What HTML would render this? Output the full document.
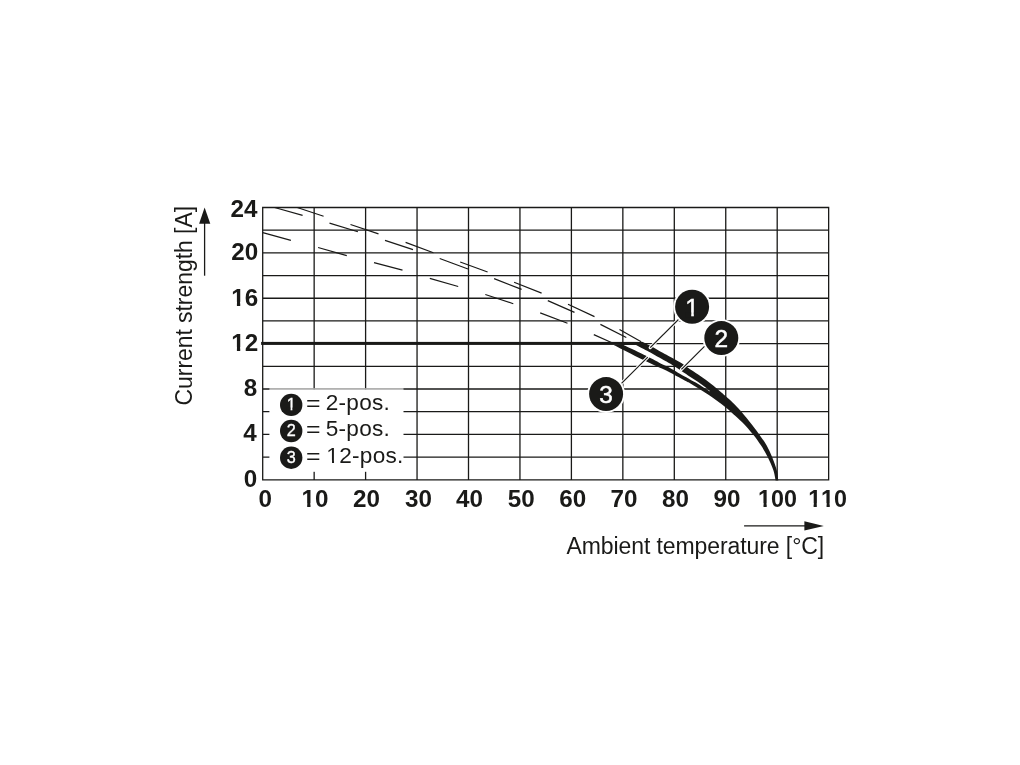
<!DOCTYPE html>
<html lang="en"><head><meta charset="utf-8"><title>Derating diagram</title>
<style>html,body{margin:0;padding:0;background:#fff}body{width:1020px;height:765px;overflow:hidden}svg{display:block}</style></head>
<body>
<svg width="1020" height="765" viewBox="0 0 1020 765" style="font-kerning:none" font-family="'Liberation Sans', Arial, Helvetica, sans-serif">
<rect width="1020" height="765" fill="#fff"/>
<path d="M262.70 207.50V479.78M314.15 207.50V479.78M365.60 207.50V479.78M417.05 207.50V479.78M468.50 207.50V479.78M519.95 207.50V479.78M571.40 207.50V479.78M622.85 207.50V479.78M674.30 207.50V479.78M725.75 207.50V479.78M777.20 207.50V479.78M828.65 207.50V479.78M262.05 207.50H829.30M262.05 230.19H829.30M262.05 252.88H829.30M262.05 275.57H829.30M262.05 298.26H829.30M262.05 320.95H829.30M262.05 343.64H829.30M262.05 366.33H829.30M262.05 389.02H829.30M262.05 411.71H829.30M262.05 434.40H829.30M262.05 457.09H829.30M262.05 479.78H829.30" stroke="#1a1a18" stroke-width="1.30" fill="none"/>
<path d="M297.2 207.5L323.6 216.3M350.5 224.5L378.5 233.9M405.6 242.4L433.4 252.7M460.2 262.0L487.6 272.0M514.1 282.2L541.6 293.1M568.0 304.3L594.5 316.6M619.5 329.5L641.2 341.8M274.6 207.5L302.6 215.3M329.5 223.1L357.9 231.8M385.0 240.4L413.0 249.6M439.7 258.5L468.0 269.0M494.1 278.6L521.6 289.4M547.8 300.6L574.5 312.4M600.4 324.4L626.3 337.5M262.8 232.7L290.9 240.4M318.1 247.5L346.8 255.7M374.0 262.7L402.5 270.2M429.8 278.4L458.2 286.5M485.3 294.5L513.3 303.7M540.2 312.9L567.5 323.3M593.8 334.6L611.4 342.5" stroke="#1a1a18" stroke-width="1.2" fill="none"/>
<rect x="261.10" y="341.9" width="381.60" height="3.0" fill="#1a1a18"/>
<path d="M642.70 341.90 C643.95 342.53 646.87 343.90 650.20 345.70 C653.53 347.50 659.40 350.87 662.70 352.70 C666.00 354.53 667.12 355.12 670.00 356.70 C672.88 358.28 677.38 360.63 680.00 362.20 C682.62 363.77 684.03 364.92 685.70 366.10 C687.37 367.28 687.98 367.93 690.00 369.30 C692.02 370.67 695.18 372.55 697.80 374.30 C700.42 376.05 703.08 377.90 705.70 379.80 C708.32 381.70 710.88 383.60 713.50 385.70 C716.12 387.80 719.35 390.63 721.40 392.40 C723.45 394.17 723.85 394.55 725.80 396.30 C727.75 398.05 730.57 400.42 733.10 402.90 C735.63 405.38 737.82 407.52 741.00 411.20 C744.18 414.88 749.13 421.08 752.20 425.00 C755.27 428.92 756.98 431.27 759.40 434.70 C761.82 438.13 764.57 441.83 766.70 445.60 C768.83 449.37 770.53 453.23 772.20 457.30 C773.87 461.37 775.68 466.15 776.70 470.00 C777.72 473.85 778.03 478.67 778.30 480.40 L775.60 480.40 C775.22 478.67 774.60 473.85 773.30 470.00 C772.00 466.15 769.83 461.37 767.80 457.30 C765.77 453.23 763.52 449.37 761.10 445.60 C758.68 441.83 756.45 438.60 753.30 434.70 C750.15 430.80 745.57 425.67 742.20 422.20 C738.83 418.73 735.83 416.33 733.10 413.90 C730.37 411.47 727.75 409.23 725.80 407.60 C723.85 405.97 723.45 405.67 721.40 404.10 C719.35 402.53 716.12 400.07 713.50 398.20 C710.88 396.33 708.32 394.62 705.70 392.90 C703.08 391.18 700.42 389.52 697.80 387.90 C695.18 386.28 692.02 384.35 690.00 383.20 C687.98 382.05 689.03 382.80 685.70 381.00 C682.37 379.20 675.13 374.97 670.00 372.40 C664.87 369.83 660.03 368.00 654.90 365.60 C649.77 363.20 644.43 360.60 639.20 358.00 C633.97 355.40 627.75 352.18 623.50 350.00 C619.25 347.82 615.33 345.75 613.70 344.90 Z M636.10 344.90 C637.93 345.88 642.67 348.37 647.10 350.80 C651.53 353.23 658.88 357.37 662.70 359.50 C666.52 361.63 666.82 361.63 670.00 363.60 C673.18 365.57 678.47 369.12 681.80 371.30 C685.13 373.48 687.33 374.95 690.00 376.70 C692.67 378.45 695.18 379.98 697.80 381.80 C700.42 383.62 703.73 386.10 705.70 387.60 C707.67 389.10 708.95 390.27 709.60 390.80 L709.60 391.40 C708.95 390.97 707.67 390.08 705.70 388.80 C703.73 387.52 700.42 385.27 697.80 383.70 C695.18 382.13 692.02 380.50 690.00 379.40 C687.98 378.30 689.03 379.02 685.70 377.10 C682.37 375.18 673.83 370.00 670.00 367.90 C666.17 365.80 666.52 366.43 662.70 364.50 C658.88 362.57 651.67 358.63 647.10 356.30 C642.53 353.97 639.23 352.40 635.30 350.50 C631.37 348.60 625.47 345.83 623.50 344.90 Z" fill="#1a1a18" fill-rule="evenodd"/>
<line x1="690.0" y1="308.0" x2="650.2" y2="347.6" stroke="#fff" stroke-width="3.2" stroke-linecap="round"/>
<line x1="690.0" y1="308.0" x2="650.2" y2="347.6" stroke="#1a1a18" stroke-width="1.2"/>
<line x1="713.0" y1="337.8" x2="681.4" y2="369.4" stroke="#fff" stroke-width="3.2" stroke-linecap="round"/>
<line x1="713.0" y1="337.8" x2="681.4" y2="369.4" stroke="#1a1a18" stroke-width="1.2"/>
<line x1="613.0" y1="391.9" x2="647.8" y2="357.1" stroke="#fff" stroke-width="3.2" stroke-linecap="round"/>
<line x1="613.0" y1="391.9" x2="647.8" y2="357.1" stroke="#1a1a18" stroke-width="1.2"/>
<circle cx="692.1" cy="306.7" r="18.9" fill="#fff"/>
<circle cx="692.1" cy="306.7" r="17" fill="#1a1a18"/>
<g transform="translate(685.31,315.50) scale(1,1)"><text font-size="24.4" fill="#fff" stroke="#fff" stroke-width="0.5">1</text><rect x="0.16" y="-3.12" width="5.73" height="5.32" fill="#1a1a18"/><rect x="8.54" y="-3.12" width="5.54" height="5.32" fill="#1a1a18"/></g>
<circle cx="721.3" cy="338.1" r="18.9" fill="#fff"/>
<circle cx="721.3" cy="338.1" r="17" fill="#1a1a18"/>
<g transform="translate(714.51,346.85) scale(1,1)"><text font-size="24.4" fill="#fff" stroke="#fff" stroke-width="0.5">2</text></g>
<circle cx="606.1" cy="394.1" r="18.9" fill="#fff"/>
<circle cx="606.1" cy="394.1" r="17" fill="#1a1a18"/>
<g transform="translate(599.31,402.90) scale(1,1)"><text font-size="24.4" fill="#fff" stroke="#fff" stroke-width="0.5">3</text></g>
<rect x="269.4" y="389.8" width="134.1" height="82.0" fill="#fff"/>
<rect x="269.4" y="388" width="134.1" height="2" fill="#fff" fill-opacity="0.55"/>
<circle cx="291.2" cy="404.9" r="11.2" fill="#1a1a18"/>
<g transform="translate(286.70,410.20) scale(1,1)"><text font-size="16.2" fill="#fff" stroke="#fff" stroke-width="0.35">1</text><rect x="-0.47" y="-2.51" width="4.36" height="4.71" fill="#1a1a18"/><rect x="5.68" y="-2.51" width="4.24" height="4.71" fill="#1a1a18"/></g>
<text transform="translate(306.0,411.3) scale(1.1,1)" font-size="22.6" fill="#1a1a18">=</text>
<g transform="translate(325.64,410.30) scale(1,1)"><text font-size="22.6" letter-spacing="0.28" fill="#1a1a18">2-pos.</text></g>
<circle cx="291.2" cy="431.0" r="11.2" fill="#1a1a18"/>
<g transform="translate(286.70,436.30) scale(1,1)"><text font-size="16.2" fill="#fff" stroke="#fff" stroke-width="0.35">2</text></g>
<text transform="translate(306.0,437.3) scale(1.1,1)" font-size="22.6" fill="#1a1a18">=</text>
<g transform="translate(325.64,436.30) scale(1,1)"><text font-size="22.6" letter-spacing="0.28" fill="#1a1a18">5-pos.</text></g>
<circle cx="291.2" cy="457.7" r="11.2" fill="#1a1a18"/>
<g transform="translate(286.70,463.00) scale(1,1)"><text font-size="16.2" fill="#fff" stroke="#fff" stroke-width="0.35">3</text></g>
<text transform="translate(306.0,463.9) scale(1.1,1)" font-size="22.6" fill="#1a1a18">=</text>
<g transform="translate(326.34,462.90) scale(1,1)"><text font-size="22.6" letter-spacing="0.28" fill="#1a1a18">12-pos.</text><rect x="0.02" y="-2.99" width="5.66" height="5.19" fill="#fff"/><rect x="7.68" y="-2.99" width="5.49" height="5.19" fill="#fff"/></g>
<g transform="translate(230.45,216.80) scale(1.04,1)"><text font-size="23.3" font-weight="bold" fill="#1a1a18">24</text></g>
<g transform="translate(231.25,260.10) scale(1.04,1)"><text font-size="23.3" font-weight="bold" fill="#1a1a18">20</text></g>
<g transform="translate(231.25,305.50) scale(1.04,1)"><text font-size="23.3" font-weight="bold" fill="#1a1a18">16</text><rect x="-0.23" y="-3.68" width="5.67" height="5.88" fill="#fff"/><rect x="8.64" y="-3.68" width="4.87" height="5.88" fill="#fff"/></g>
<g transform="translate(231.25,350.90) scale(1.04,1)"><text font-size="23.3" font-weight="bold" fill="#1a1a18">12</text><rect x="-0.23" y="-3.68" width="5.67" height="5.88" fill="#fff"/><rect x="8.64" y="-3.68" width="4.87" height="5.88" fill="#fff"/></g>
<g transform="translate(243.72,396.30) scale(1.04,1)"><text font-size="23.3" font-weight="bold" fill="#1a1a18">8</text></g>
<g transform="translate(243.32,441.30) scale(1.04,1)"><text font-size="23.3" font-weight="bold" fill="#1a1a18">4</text></g>
<g transform="translate(243.72,487.00) scale(1.04,1)"><text font-size="23.3" font-weight="bold" fill="#1a1a18">0</text></g>
<g transform="translate(258.56,506.90) scale(1.04,1)"><text font-size="23.3" font-weight="bold" fill="#1a1a18">0</text></g>
<g transform="translate(301.52,506.90) scale(1.04,1)"><text font-size="23.3" font-weight="bold" fill="#1a1a18">10</text><rect x="-0.23" y="-3.68" width="5.67" height="5.88" fill="#fff"/><rect x="8.64" y="-3.68" width="4.87" height="5.88" fill="#fff"/></g>
<g transform="translate(353.12,506.90) scale(1.04,1)"><text font-size="23.3" font-weight="bold" fill="#1a1a18">20</text></g>
<g transform="translate(404.92,506.90) scale(1.04,1)"><text font-size="23.3" font-weight="bold" fill="#1a1a18">30</text></g>
<g transform="translate(456.12,506.90) scale(1.04,1)"><text font-size="23.3" font-weight="bold" fill="#1a1a18">40</text></g>
<g transform="translate(507.82,506.90) scale(1.04,1)"><text font-size="23.3" font-weight="bold" fill="#1a1a18">50</text></g>
<g transform="translate(559.32,506.90) scale(1.04,1)"><text font-size="23.3" font-weight="bold" fill="#1a1a18">60</text></g>
<g transform="translate(610.52,506.90) scale(1.04,1)"><text font-size="23.3" font-weight="bold" fill="#1a1a18">70</text></g>
<g transform="translate(661.92,506.90) scale(1.04,1)"><text font-size="23.3" font-weight="bold" fill="#1a1a18">80</text></g>
<g transform="translate(713.42,506.90) scale(1.04,1)"><text font-size="23.3" font-weight="bold" fill="#1a1a18">90</text></g>
<g transform="translate(758.06,506.90) scale(1,1)"><text font-size="23.3" font-weight="bold" fill="#1a1a18">100</text><rect x="-0.23" y="-3.68" width="5.67" height="5.88" fill="#fff"/><rect x="8.64" y="-3.68" width="4.87" height="5.88" fill="#fff"/></g>
<g transform="translate(808.16,506.90) scale(1,1)"><text font-size="23.3" font-weight="bold" fill="#1a1a18">110</text><rect x="-0.23" y="-3.68" width="5.67" height="5.88" fill="#fff"/><rect x="8.64" y="-3.68" width="4.87" height="5.88" fill="#fff"/><rect x="12.73" y="-3.68" width="5.67" height="5.88" fill="#fff"/><rect x="21.59" y="-3.68" width="4.87" height="5.88" fill="#fff"/></g>
<text x="566.5" y="553.5" font-size="23" letter-spacing="-0.09" fill="#1a1a18">Ambient temperature [°C]</text>
<text transform="translate(192.0,405.5) rotate(-90)" font-size="23" letter-spacing="-0.06" fill="#1a1a18">Current strength [A]</text>
<path d="M744.1 525.9H806" stroke="#1a1a18" stroke-width="1.3" fill="none"/>
<path d="M823.8 525.9L804.4 521.2V530.6Z" fill="#1a1a18"/>
<path d="M204.6 275.7V222" stroke="#1a1a18" stroke-width="1.3" fill="none"/>
<path d="M204.6 207.4L199.1 223.8H210.3Z" fill="#1a1a18"/>
</svg>
</body></html>
